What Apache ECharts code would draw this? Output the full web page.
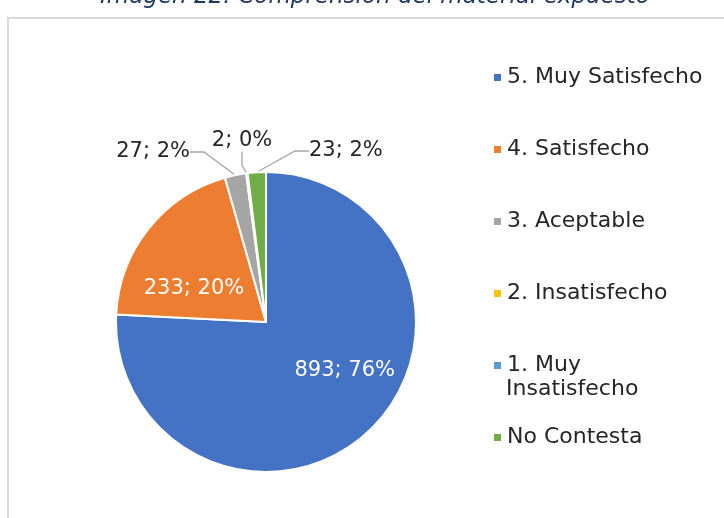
<!DOCTYPE html>
<html>
<head>
<meta charset="utf-8">
<script src="https://cdn.jsdelivr.net/npm/echarts@6/dist/echarts.min.js"></script>
<style>
    html, body { margin: 0; padding: 0; background: #fff; }
    #container { width: 724px; height: 518px; }
</style>
</head>
<body>
<div id="container"></div>
<script>
    // datos del gráfico
    const categories = ['5. Muy Satisfecho', '4. Satisfecho', '3. Aceptable', '2. Insatisfecho', '1. Muy Insatisfecho', 'No Contesta'];
    const values = [893, 233, 27, 2, 0, 23];
    const colors = ['#4472C4', '#ED7D31', '#A5A5A5', '#FFC000', '#5B9BD5', '#70AD47'];

    const font = 'DejaVu Sans';

    // etiquetas: dentro para las porciones grandes, fuera para las pequeñas
    function labelFor(i) {
        if (values[i] === 0) {
            return { show: false };
        }
        if (i < 2) {
            return { position: 'inside', color: '#fff' };
        }
        return { position: 'outside', color: '#262626' };
    }

    let chartsData = [];
    categories.forEach(function (name, i) {
        chartsData.push({
            name: name,
            value: values[i],
            itemStyle: { color: colors[i] },
            label: labelFor(i)
        });
    });

    let myChart = echarts.init(document.getElementById('container'));
    let option = {
        animation: false,
        title: {
            text: 'Imagen 22: Comprensión del material expuesto',
            left: 95,
            top: -19,
            textStyle: {
                fontFamily: font,
                fontStyle: 'italic',
                fontWeight: 'normal',
                fontSize: 23,
                color: '#1F3864'
            }
        },
        graphic: [{
            type: 'rect',
            shape: { x: 8, y: 18, width: 800, height: 600 },
            style: { fill: 'none', stroke: '#D9D9D9', lineWidth: 2 },
            silent: true
        }, {
            // segunda línea de la leyenda "1. Muy Insatisfecho"
            type: 'text',
            left: 506,
            top: 378,
            style: { text: 'Insatisfecho', fontFamily: font, fontSize: 22, fill: '#262626' }
        }],
        legend: {
            orient: 'vertical',
            left: 487,
            top: 58,
            itemWidth: 9,
            itemHeight: 9,
            itemGap: 43,
            icon: 'rect',
            data: categories,
            formatter: function (name) {
                return name === '1. Muy Insatisfecho' ? '1. Muy' : name;
            },
            textStyle: { fontFamily: font, fontSize: 22, lineHeight: 29, color: '#262626' }
        },
        series: [{
            name: 'Comprensión',
            type: 'pie',
            center: [266, 322],
            radius: 150,
            startAngle: 90,
            clockwise: true,
            percentPrecision: 0,
            avoidLabelOverlap: false,
            itemStyle: { borderColor: '#fff', borderWidth: 2 },
            label: {
                formatter: '{c}; {d}%',
                fontFamily: font,
                fontSize: 21
            },
            labelLine: {
                length: 12,
                length2: 14,
                lineStyle: { color: '#A6A6A6', width: 1.3 }
            },
            labelLayout: function (params) {
                switch (params.dataIndex) {
                    case 0: return { dx: 25, dy: -8 };
                    case 1: return { dx: -11, dy: 15 };
                    case 2: return { x: 190, y: 152, align: 'right', verticalAlign: 'middle' };
                    case 3: return { x: 242, y: 141, align: 'center', verticalAlign: 'middle' };
                    case 5: return { x: 309, y: 151, align: 'left', verticalAlign: 'middle' };
                }
                return {};
            },
            data: chartsData
        }]
    };
    myChart.setOption(option);
</script>
</body>
</html>
